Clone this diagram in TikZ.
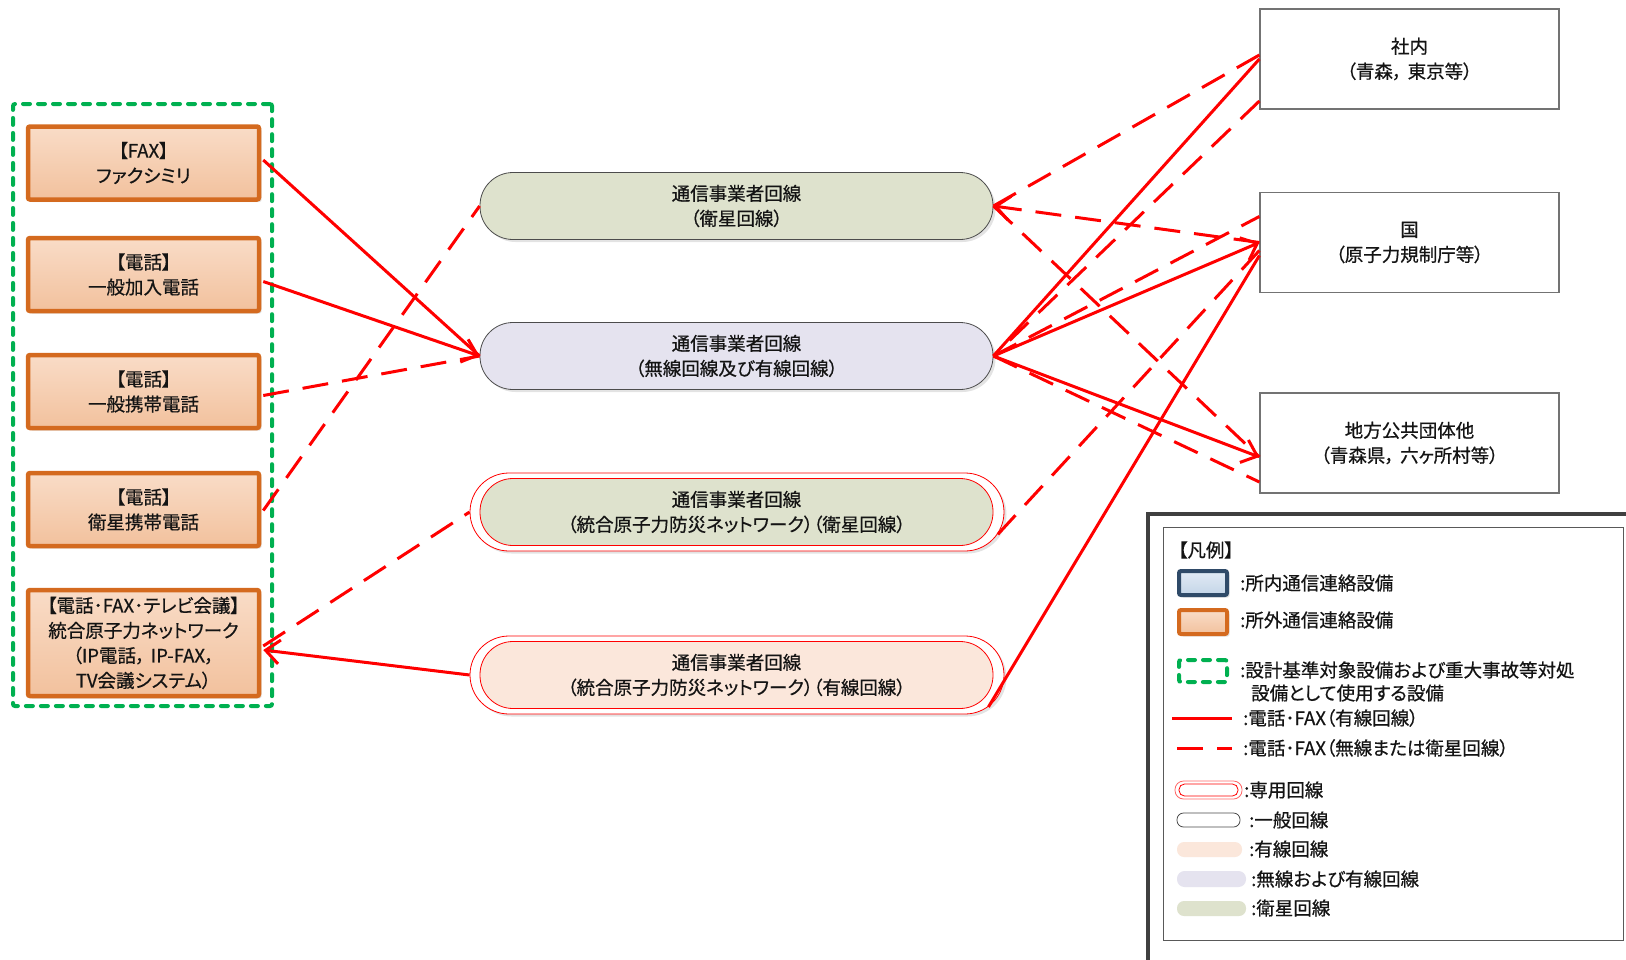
\documentclass[tikz,border=0pt]{standalone}
\usepackage{fontspec}
\setmainfont{Noto Sans CJK JP}[RawFeature={+palt}, FakeBold=0.6]
\usetikzlibrary{arrows.meta,calc,shadows}
\definecolor{boxor}{HTML}{D46A1F}
\definecolor{boxtop}{HTML}{F9DCC7}
\definecolor{boxbot}{HTML}{F2C19D}
\definecolor{grn}{HTML}{00B050}
\definecolor{satfill}{HTML}{DEE2CD}
\definecolor{mixfill}{HTML}{E5E3EF}
\definecolor{wirefill}{HTML}{FBE7DB}
\definecolor{lnred}{HTML}{FF0000}
\definecolor{navy}{HTML}{2F4A68}
\definecolor{ltblue}{HTML}{E2EBF5}
\definecolor{ltblue2}{HTML}{C3D4E7}
\newcommand{\jcomma}{，\hspace{0.3em}}
\tikzset{
  jp/.style={font=\fontsize{18.5}{25}\selectfont, text=black!92},
  shd/.style={drop shadow={shadow xshift=2.5pt,shadow yshift=-2.5pt,opacity=.22}},
  orgbox/.style={jp, shd, draw=boxor, line width=4.5pt, rounded corners=2pt, top color=boxtop, bottom color=boxbot,
    minimum width=231pt, minimum height=73pt, inner sep=0pt, align=center},
  grpbox/.style={draw=grn, line width=4pt, dash pattern=on 7pt off 8pt, line cap=round, rounded corners=2pt, inner sep=0pt},
  pill/.style={jp, rounded corners=33pt, minimum width=513pt, minimum height=67pt, inner sep=0pt, align=center},
  genpill/.style={shd, draw=black!70, line width=0.8pt},
  outerpill/.style={shd, draw=lnred, line width=0.8pt, fill=white, rounded corners=39pt, minimum width=534pt, minimum height=78pt, inner sep=0pt},
  innerpill/.style={draw=lnred, line width=0.8pt},
  rbox/.style={jp, draw=black!55, line width=1.2pt, fill=white, minimum width=299pt, minimum height=100pt, inner sep=0pt, align=center},
  wired/.style={draw=lnred, line width=3pt},
  wless/.style={wired, dash pattern=on 26pt off 14pt},
  tipend/.style={-{Straight Barb[length=14pt,width=24pt]}},
  legtxt/.style={jp, anchor=west, inner sep=0pt},
  legkey/.style={inner sep=0pt, minimum width=48pt, minimum height=24pt, line width=4pt, rounded corners=2pt}
}
\begin{document}
\begin{tikzpicture}[x=1pt,y=-1pt]
\useasboundingbox (0,0) rectangle (1626,959);
\clip (0,0) rectangle (1626,959);

% left boxes
\node[orgbox] (fax) at (143.5,163) {【FAX】\\ファクシミリ};
\node[orgbox] (tel1) at (143.5,274.5) {【電話】\\一般加入電話};
\node[orgbox] (tel2) at (143.5,391.5) {【電話】\\一般携帯電話};
\node[orgbox] (tel3) at (143.5,509.5) {【電話】\\衛星携帯電話};
\node[orgbox, minimum height=106pt] (net) at (143.5,643) {【電話･FAX･テレビ会議】\\統合原子力ネットワーク\\（IP電話\jcomma IP-FAX，\\TV会議システム）};
\node[grpbox, minimum width=259pt, minimum height=602pt] (grp) at (142.5,405) {};

% carrier lines
\node[pill, genpill, fill=satfill] (p1) at (736.5,206) {通信事業者回線\\（衛星回線）};
\node[pill, genpill, fill=mixfill] (p2) at (736.5,356) {通信事業者回線\\（無線回線及び有線回線）};
\node[outerpill] (p3o) at (737,512) {};
\node[pill, innerpill, fill=satfill] (p3) at (736.5,512) {通信事業者回線\\（統合原子力防災ネットワーク）（衛星回線）};
\node[outerpill] (p4o) at (737,675) {};
\node[pill, innerpill, fill=wirefill] (p4) at (736.5,675) {通信事業者回線\\（統合原子力防災ネットワーク）（有線回線）};

% right boxes
\node[rbox] (b1) at (1409.5,59) {社内\\（青森\jcomma 東京等）};
\node[rbox] (b2) at (1409.5,242.5) {国\\（原子力規制庁等）};
\node[rbox] (b3) at (1409.5,443) {地方公共団体他\\（青森県\jcomma 六ヶ所村等）};

% left connectors
\draw[wired] ($(fax.east)+(2,-3)$) -- (p2.west);
\draw[wired, tipend] ($(tel1.east)+(2,7)$) -- (p2.west);
\draw[wless] ($(tel2.east)+(2,4)$) -- (p2.west);
\draw[wless] ($(tel3.east)+(2,1)$) -- (p1.west);
\draw[wless] ($(net.east)+(2,3)$) -- (p3o.west);
\draw[wired, tipend] (p4o.west) -- ($(net.east)+(2,7)$);

% right connectors
\draw[wless] ($(b1.west)+(0,-4)$) -- (p1.east);
\draw[wired] (b1.west) -- (p2.east);
\draw[wless] ($(b1.west)+(0,42)$) -- (p2.east);
\draw[wless, tipend] (b2.west) -- (p1.east);
\draw[wless] (p1.east) -- ($(b3.west)+(0,14)$);
\draw[wired, tipend] (p2.east) -- (b2.west);
\draw[wless] (p2.east) -- ($(b2.west)+(0,-26)$);
\draw[wired, tipend] (p2.east) -- ($(b3.west)+(0,14)$);
\draw[wless] (p2.east) -- ($(b3.west)+(0,39)$);
\draw[wless] ($(b2.west)+(0,8)$) -- ($(p3o.east)+(-9,25)$);
\draw[wired] ($(b2.west)+(0,13)$) -- ($(p4o.east)+(-16,32)$);

% legend
\node[draw=black!75, line width=3.5pt, minimum width=520pt, minimum height=480pt, anchor=north west, inner sep=0pt] (legframe) at (1146,512) {};
\node[draw=black!65, line width=1.2pt, fill=white, minimum width=460pt, minimum height=413pt, anchor=north west, inner sep=0pt] (leg) at (1163,527) {};
\node[legtxt] (legt) at (1178,550) {【凡例】};

\node[legkey, shd, draw=navy, top color=ltblue, bottom color=ltblue2] (k1) at (1203,583) {};
\node[legtxt] (t1) at (1240,583) {:所内通信連絡設備};
\node[legkey, shd, draw=boxor, top color=boxtop, bottom color=boxbot] (k2) at (1203,622) {};
\node[legtxt] (t2) at (1240,620) {:所外通信連絡設備};
\node[legkey, grpbox, minimum width=48pt, minimum height=22pt] (k3) at (1203,671) {};
\node[legtxt] (t3) at (1240,670) {:設計基準対象設備および重大事故等対処};
\node[legtxt] (t3b) at (1251,693) {設備として使用する設備};
\coordinate (k4a) at (1172,718);
\coordinate (k4b) at (1232,718);
\draw[wired] (k4a) -- (k4b);
\node[legtxt] (t4) at (1243,718) {:電話･FAX（有線回線）};
\coordinate (k5a) at (1177,748);
\coordinate (k5b) at (1232,748);
\draw[wless] (k5a) -- (k5b);
\node[legtxt] (t5) at (1243,748) {:電話･FAX（無線または衛星回線）};

\node[draw=lnred!60, line width=0.8pt, rounded corners=8.5pt, minimum width=67pt, minimum height=18pt, inner sep=0pt] (k6o) at (1208.5,790) {};
\node[draw=lnred, line width=0.8pt, rounded corners=5.5pt, minimum width=59pt, minimum height=12pt, inner sep=0pt] (k6) at (1208.5,790) {};
\node[legtxt] (t6) at (1244,790) {:専用回線};
\node[draw=black!70, line width=0.8pt, rounded corners=6.5pt, minimum width=63pt, minimum height=14pt, inner sep=0pt] (k7) at (1208.5,820) {};
\node[legtxt] (t7) at (1249,820) {:一般回線};
\node[fill=wirefill, rounded corners=7pt, minimum width=65pt, minimum height=15pt, inner sep=0pt] (k8) at (1209.5,849.5) {};
\node[legtxt] (t8) at (1249,849) {:有線回線};
\node[fill=mixfill, rounded corners=7.5pt, minimum width=69pt, minimum height=16pt, inner sep=0pt] (k9) at (1211.5,879) {};
\node[legtxt] (t9) at (1251,879) {:無線および有線回線};
\node[fill=satfill, rounded corners=7pt, minimum width=69pt, minimum height=15pt, inner sep=0pt] (k10) at (1211.5,908.5) {};
\node[legtxt] (t10) at (1251,908) {:衛星回線};
\end{tikzpicture}
\end{document}
